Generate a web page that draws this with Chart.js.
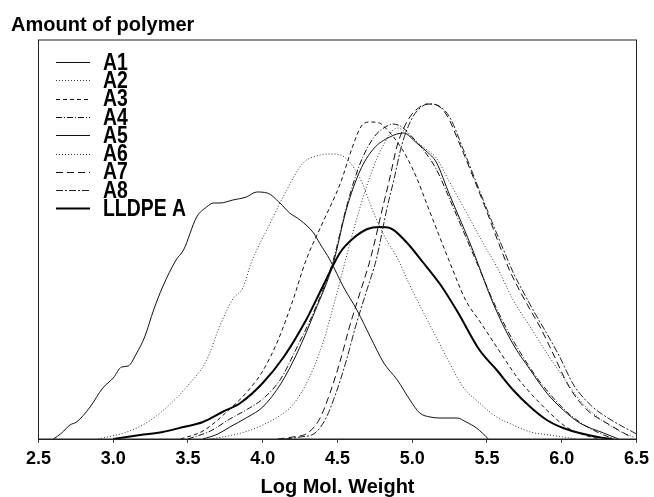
<!DOCTYPE html>
<html>
<head>
<meta charset="utf-8">
<script src="https://cdn.jsdelivr.net/npm/chart.js@4.4.1/dist/chart.umd.min.js"></script>
<style>
  html, body { margin: 0; padding: 0; background: #fff; }
  canvas { display: block; }
</style>
</head>
<body>
<canvas id="c" width="654" height="497"></canvas>
<script>
// ---- data (x = log molecular weight, y = amount of polymer, arbitrary units) ----
const seriesNames = ["A1", "A2", "A3", "A4", "A5", "A6", "A7", "A8", "LLDPE A"];
const xTickValues = [2.5, 3.0, 3.5, 4.0, 4.5, 5.0, 5.5, 6.0, 6.5];

const a1X = [2.6,2.655,2.71,2.755,2.845,2.93,3.0,3.056,3.10,3.157,3.21,3.27,3.33,3.42,3.47,3.558,3.625,3.67,3.714,3.80,3.89,3.96,4.03,4.115,4.18,4.25,4.34,4.38,4.45,4.54,4.63,4.72,4.81,4.90,4.985,5.05,5.12,5.185,5.30,5.36,5.43,5.51];
const a1Y = [0,6,14,17,32,51,61,72,73,86,102,129,152,179,189,222,232,236,236,239,242,247,246,236,226,219,206,196,179,152,129,102,76,59,39,26,22,21,21,17,11,0];

const a2X = [2.9,3.09,3.22,3.36,3.49,3.625,3.71,3.80,3.87,3.92,4.05,4.16,4.27,4.36,4.45,4.52,4.58,4.65,4.74,4.81,4.90,4.98,5.07,5.16,5.25,5.34,5.45,5.565,5.675,5.79,5.92,6.01,6.1];
const a2Y = [0,7,16,32,52,79,112,140,152,175,216,249,276,283,285,284,277,261,227,204,181,155,128,102,76,52,36,22,14,7,4,2,0];

const a3X = [3.45,3.6,3.78,3.9,4.0,4.1,4.2,4.29,4.4,4.52,4.6,4.66,4.72,4.78,4.84,4.9,4.97,5.03,5.1,5.16,5.25,5.36,5.45,5.565,5.70,5.79,5.92,6.03,6.15,6.25];
const a3Y = [0,8,30,48,68,98,138,179,216,256,292,313,317,316,308,297,280,261,234,211,177,138,118,92,62,46,26,12,4,0];

const a4X = [3.5,3.65,3.78,3.9,4.0,4.12,4.23,4.35,4.47,4.56,4.65,4.75,4.82,4.87,4.93,5.0,5.08,5.16,5.25,5.35,5.45,5.55,5.65,5.75,5.85,5.95,6.05,6.15,6.25,6.35];
const a4Y = [0,8,20,30,40,60,92,130,178,232,275,303,312,315,312,302,288,270,240,205,170,135,105,80,58,40,25,14,6,0];

const a5X = [3.6,3.7,3.78,3.9,4.0,4.12,4.23,4.35,4.47,4.56,4.65,4.74,4.85,4.94,5.03,5.1,5.16,5.25,5.33,5.41,5.54,5.67,5.79,5.9,6.01,6.12,6.28,6.38];
const a5Y = [0,5,12,22,32,55,86,128,175,230,268,290,302,306,296,287,277,244,216,187,136,96,69,46,29,16,6,0];

const a6X = [3.65,3.8,3.9,4.0,4.1,4.2,4.3,4.4,4.5,4.6,4.7,4.8,4.9,4.97,5.03,5.1,5.16,5.25,5.36,5.47,5.57,5.675,5.79,5.9,6.01,6.12,6.24,6.37,6.48];
const a6Y = [0,4,8,14,22,34,58,95,148,205,255,292,311,305,297,289,281,257,227,197,171,139,112,86,62,39,22,9,2];

const a7X = [4.1,4.2,4.3,4.38,4.45,4.52,4.58,4.65,4.72,4.8,4.85,4.9,4.98,5.05,5.1,5.16,5.23,5.32,5.41,5.5,5.57,5.65,5.72,5.79,5.855,5.94,6.05,6.17,6.3,6.45];
const a7Y = [0,2,6,20,46,79,112,146,180,230,261,294,321,332,335,334,324,294,261,227,199,169,148,129,112,86,52,29,16,3];

const a8X = [4.15,4.25,4.35,4.42,4.49,4.56,4.62,4.69,4.76,4.83,4.88,4.93,5.0,5.07,5.12,5.18,5.25,5.34,5.43,5.52,5.6,5.68,5.75,5.82,5.89,5.98,6.08,6.2,6.32,6.5];
const a8Y = [0,2,6,20,46,79,112,146,180,230,261,294,321,333,335,333,322,290,256,222,193,165,145,126,108,84,54,33,20,5];

const lldpeX = [3.0,3.045,3.18,3.33,3.47,3.60,3.73,3.85,4.0,4.14,4.29,4.4,4.52,4.6,4.7,4.78,4.85,4.96,5.07,5.19,5.30,5.45,5.565,5.675,5.79,5.90,6.01,6.12,6.24,6.34];
const lldpeY = [0,1,4,7,12,17,27,36,56,82,119,152,187,200,210,212,211,197,177,154,128,89,69,49,32,19,11,6,2,0];

// ---- styles ----
const xs = [a1X,a2X,a3X,a4X,a5X,a6X,a7X,a8X,lldpeX];
const ys = [a1Y,a2Y,a3Y,a4Y,a5Y,a6Y,a7Y,a8Y,lldpeY];
const dashes = [[], [1,2], [4,3], [6,2,1,2], [], [1,2], [7,4], [7,2,2,2], []];
const widths = [1, 1, 1, 1, 1, 1, 1, 1, 2];
const colors = ['#111','#333','#111','#111','#111','#333','#111','#222','#000'];

const FONT = '"Liberation Sans", Arial, Helvetica, sans-serif';

const datasets = seriesNames.map((name, i) => ({
  label: name,
  data: xs[i].map((x, j) => ({ x: x, y: ys[i][j] })),
  borderColor: colors[i],
  borderWidth: widths[i],
  borderDash: dashes[i],
  pointRadius: 0,
  fill: false,
  cubicInterpolationMode: 'monotone'
}));

const decor = {
  id: 'decor',
  afterDraw(chart) {
    const ctx = chart.ctx;
    const a = chart.chartArea;
    ctx.save();
    // frame
    ctx.setLineDash([]);
    ctx.strokeStyle = '#222';
    ctx.lineWidth = 1;
    ctx.strokeRect(a.left, a.top, a.right - a.left, a.bottom - a.top);
    // titles
    ctx.fillStyle = '#000';
    ctx.font = 'bold 20px ' + FONT;
    ctx.textBaseline = 'middle';
    ctx.textAlign = 'left';
    ctx.fillText('Amount of polymer', 11, 25);
    ctx.textAlign = 'center';
    ctx.fillText('Log Mol. Weight', (a.left + a.right) / 2, 487);
    // legend
    ctx.textAlign = 'left';
    ctx.font = 'bold 20px ' + FONT;
    chart.data.datasets.forEach((ds, i) => {
      const y = 62 + i * 18.3;
      ctx.beginPath();
      ctx.setLineDash(ds.borderDash);
      ctx.lineWidth = ds.borderWidth;
      ctx.strokeStyle = ds.borderColor;
      ctx.moveTo(56, Math.round(y) + 0.5);
      ctx.lineTo(90, Math.round(y) + 0.5);
      ctx.stroke();
      ctx.save();
      ctx.translate(103, y + 1);
      ctx.scale(0.97, 1.2);
      ctx.fillStyle = '#000';
      ctx.fillText(ds.label, 0, 0);
      ctx.restore();
    });
    ctx.restore();
  }
};

new Chart(document.getElementById('c'), {
  type: 'line',
  data: { datasets: datasets },
  options: {
    responsive: false,
    devicePixelRatio: 1,
    animation: false,
    layout: { padding: { left: 38.5, right: 17.5, top: 40, bottom: 0 } },
    plugins: { legend: { display: false }, tooltip: { enabled: false }, title: { display: false } },
    scales: {
      x: {
        type: 'linear',
        min: 2.5, max: 6.5,
        afterBuildTicks: (s) => { s.ticks = xTickValues.map(v => ({ value: v })); },
        afterFit: (s) => { s.height = 58; },
        ticks: {
          callback: (v) => Number(v).toFixed(1),
          color: '#000',
          font: { family: FONT, size: 18, weight: 'bold' },
          padding: 5,
          maxRotation: 0,
          autoSkip: false
        },
        grid: { display: true, drawOnChartArea: false, drawTicks: true, tickLength: 4, color: '#444' },
        border: { display: true, color: '#222' }
      },
      y: {
        display: false,
        min: 0, max: 399
      }
    }
  },
  plugins: [decor]
});
</script>
</body>
</html>
